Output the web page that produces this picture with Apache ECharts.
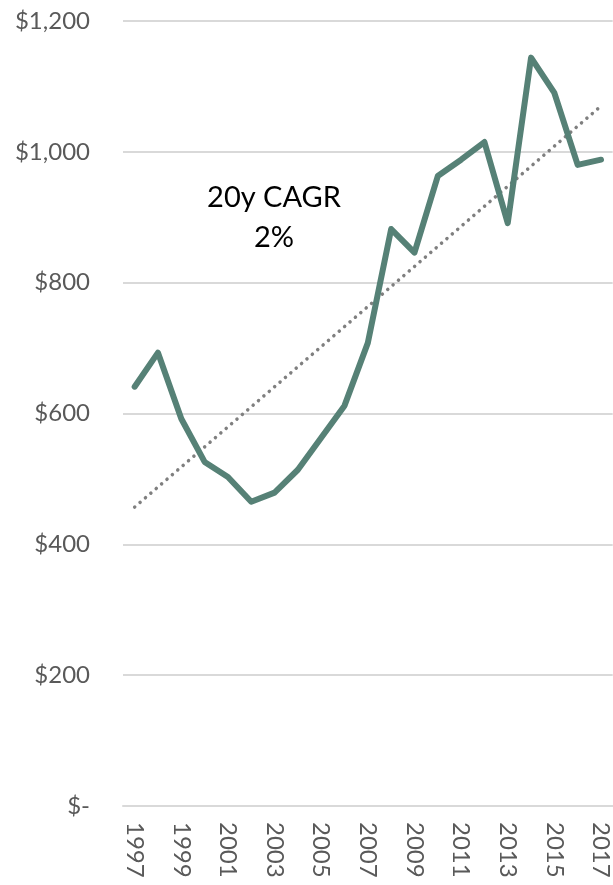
<!DOCTYPE html>
<html>
<head>
<meta charset="utf-8">
<script src="https://cdn.jsdelivr.net/npm/echarts@6/dist/echarts.min.js"></script>
<style>
  html, body { margin: 0; padding: 0; background: #fff; }
  #chart { width: 613px; height: 885px; }
</style>
</head>
<body>
<div id="chart"></div>
<script>
// years on the x axis
const years = ["1997", "1998", "1999", "2000", "2001", "2002", "2003", "2004", "2005", "2006", "2007",
  "2008", "2009", "2010", "2011", "2012", "2013", "2014", "2015", "2016", "2017"];

// values
const values = [641, 693, 592, 526, 503, 465, 479, 514, 563, 612, 708,
  882, 846, 963, 988, 1015, 891, 1144, 1090, 980, 988];

// trend line end points (1997 and 2017)
const trendStart = 457;
const trendEnd = 1070;

const yTicks = [0, 200, 400, 600, 800, 1000, 1200];
const annotation = ["20y CAGR", "2%"];

const fontFamily = "Lato, 'Open Sans', sans-serif";

const formatMoney = (v) => {
  if (v === 0) return "$-";
  return "$" + v.toLocaleString("en-US");
};

const trendData = years.map((y, i) => {
  if (i === 0) return trendStart;
  if (i === years.length - 1) return trendEnd;
  return null;
});

const chart = echarts.init(document.getElementById("chart"));

chart.setOption({
  backgroundColor: "#fff",
  animation: false,
  grid: {
    left: 123,
    right: 0,
    top: 21,
    bottom: 79,
  },
  xAxis: {
    type: "category",
    data: years,
    boundaryGap: true,
    axisTick: { show: false },
    axisLine: {
      lineStyle: { color: "#d9d9d9", width: 2 },
    },
    axisLabel: {
      interval: 1,
      rotate: -90,
      margin: 16,
      color: "#595959",
      fontSize: 24,
      fontFamily,
    },
  },
  yAxis: {
    type: "value",
    min: yTicks[0],
    max: yTicks[yTicks.length - 1],
    interval: 200,
    axisLine: { show: false },
    axisTick: { show: false },
    splitLine: {
      lineStyle: { color: "#d9d9d9", width: 2 },
    },
    axisLabel: {
      margin: 33,
      color: "#595959",
      fontSize: 24,
      fontFamily,
      formatter: formatMoney,
    },
  },
  graphic: annotation.map((line, i) => ({
    type: "text",
    x: 274,
    y: 198 + i * 40,
    style: {
      text: line,
      align: "center",
      verticalAlign: "middle",
      fill: "#000",
      fontSize: 29,
      fontFamily,
    },
  })),
  series: [
    {
      name: "trend",
      type: "line",
      data: trendData,
      connectNulls: true,
      symbol: "none",
      lineStyle: {
        color: "#7f7f7f",
        width: 3.5,
        type: [0.1, 7],
        cap: "round",
      },
      z: 1,
    },
    {
      name: "value",
      type: "line",
      data: values,
      symbol: "none",
      lineStyle: {
        color: "#568176",
        width: 6,
        cap: "round",
        join: "round",
      },
      z: 2,
    },
  ],
});
</script>
</body>
</html>
